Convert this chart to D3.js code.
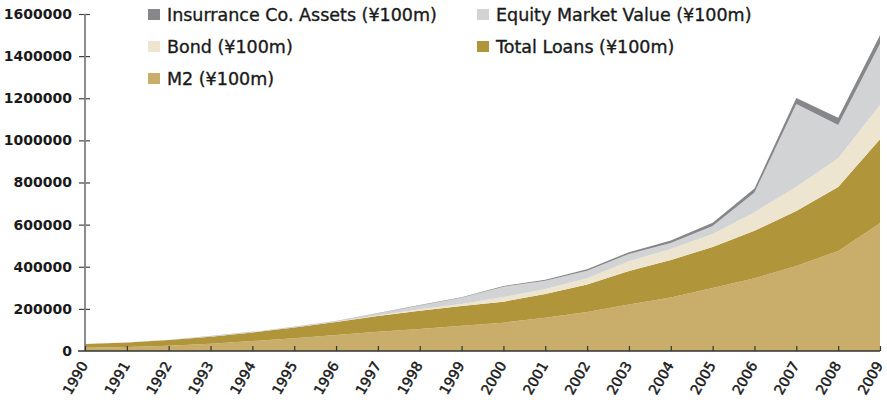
<!DOCTYPE html>
<html>
<head>
<meta charset="utf-8">
<script src="https://cdn.jsdelivr.net/npm/d3@7/dist/d3.min.js"></script>
<style>
  body { margin: 0; background: #fff; }
  svg { display: block; font-family: "DejaVu Sans", sans-serif; }
</style>
</head>
<body>
<svg id="chart" width="887" height="400"></svg>
<script>
// ---- Data (¥100m) ----
const years = [1990,1991,1992,1993,1994,1995,1996,1997,1998,1999,2000,2001,2002,2003,2004,2005,2006,2007,2008,2009];
const m2 = [15293,19350,25402,34880,46924,60750,76095,90995,104499,119898,134610,158302,185007,221223,254107,298756,345604,403442,475167,606225];
const totalLoans = [17681,21338,26323,32943,40810,50544,61157,74914,86524,93734,99371,112315,131294,158996,178198,194690,225347,261691,303395,399685];
const bond = [400,500,700,800,900,1000,1500,3000,7000,10000,22000,24000,29000,46000,52000,62000,88000,115000,137000,162000];
const equity = [100,200,800,1500,1500,1500,3000,10000,18000,29500,49600,38500,36000,34000,28000,38000,93000,392000,158000,291000];
const insurance = [300,400,500,600,700,800,900,1300,2000,2600,3400,4600,6500,9100,11900,15300,19700,29000,33400,40600];
const yTicks = [0,200000,400000,600000,800000,1000000,1200000,1400000,1600000];

const seriesKeys = ["m2","loans","bond","equity","insurance"];
const seriesLabels = {
  insurance: "Insurrance Co. Assets (¥100m)",
  equity: "Equity Market Value (¥100m)",
  bond: "Bond (¥100m)",
  loans: "Total Loans (¥100m)",
  m2: "M2 (¥100m)"
};
const colors = {
  insurance: "#87878b",
  equity: "#d2d3d5",
  bond: "#ede5d0",
  loans: "#b0953a",
  m2: "#c8ae6a"
};
const legendOrder = ["insurance","equity","bond","loans","m2"];

const table = years.map((y,i) => ({
  year: y, m2: m2[i], loans: totalLoans[i], bond: bond[i], equity: equity[i], insurance: insurance[i]
}));

const FONT = "'DejaVu Sans', sans-serif";
const svg = d3.select("#chart");
const x = d3.scaleLinear().domain([1990, 2009]).range([85, 880]);
const y = d3.scaleLinear().domain([0, 1600000]).range([351, 14]);

const stacked = d3.stack().keys(seriesKeys)(table);
const area = d3.area()
  .x(d => x(d.data.year))
  .y0(d => y(d[0]))
  .y1(d => y(d[1]));

svg.append("g").selectAll("path")
  .data(stacked)
  .join("path")
  .attr("d", area)
  .attr("fill", d => colors[d.key]);

// Y axis
const yAxis = d3.axisLeft(y).tickValues(yTicks).tickFormat(d3.format("d")).tickSize(6).tickPadding(7);
const gy = svg.append("g").attr("transform", "translate(85,0)").call(yAxis).attr("font-family", FONT);
gy.select(".domain").remove();
gy.selectAll(".tick line").attr("x1", -6).attr("x2", 5).attr("stroke", "#444").attr("stroke-width", 1.2);
gy.selectAll(".tick").filter(d => d === 0).select("line").remove();
gy.selectAll(".tick text").attr("font-size", 14).attr("font-weight", 700).attr("fill", "#1a1a1a");
svg.append("line").attr("x1", 85).attr("x2", 85).attr("y1", 14).attr("y2", 351)
  .attr("stroke", "#808080").attr("stroke-width", 1.8);

// X axis
const xAxis = d3.axisBottom(x).tickValues(years).tickFormat(d3.format("d")).tickSizeInner(-5).tickSizeOuter(0).tickPadding(0);
const gx = svg.append("g").attr("transform", "translate(0,351)").call(xAxis).attr("font-family", FONT);
gx.select(".domain").remove();
gx.selectAll(".tick line").attr("stroke", "#333").attr("stroke-width", 1.2);
gx.selectAll(".tick text")
  .attr("font-size", 14).attr("font-weight", 400).attr("fill", "#1a1a1a")
  .attr("stroke", "#1a1a1a").attr("stroke-width", 0.45)
  .attr("text-anchor", "end")
  .attr("y", 0).attr("dy", 0)
  .attr("transform", "translate(3,14) rotate(-60)");
svg.append("line").attr("x1", 78).attr("x2", 880).attr("y1", 351).attr("y2", 351)
  .attr("stroke", "#333").attr("stroke-width", 1.5);

// Legend
const legendPos = [[148,15],[477,15],[148,47],[477,47],[148,79]];
const lg = svg.append("g").selectAll("g").data(legendOrder).join("g")
  .attr("transform", (d,i) => `translate(${legendPos[i][0]},${legendPos[i][1]})`);
lg.append("rect").attr("x", 0).attr("y", -6).attr("width", 12).attr("height", 11).attr("fill", d => colors[d]);
lg.append("text").attr("x", 19).attr("y", 0).attr("dy", "0.36em")
  .attr("font-size", 17.5).attr("fill", "#1a1a1a")
  .attr("stroke", "#1a1a1a").attr("stroke-width", 0.35)
  .text(d => seriesLabels[d]);
</script>
</body>
</html>
